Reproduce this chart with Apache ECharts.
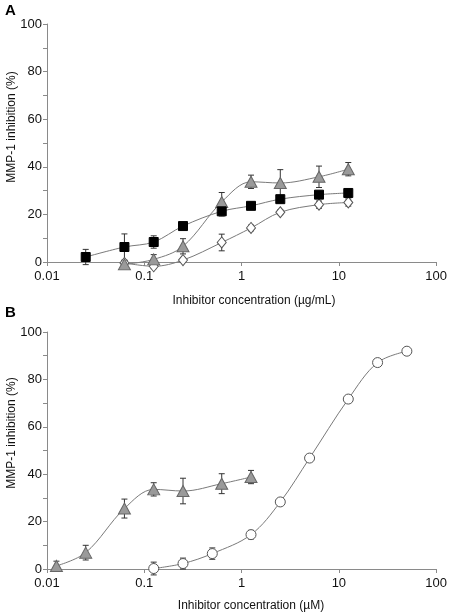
<!DOCTYPE html>
<html>
<head>
<meta charset="utf-8">
<script src="https://cdn.jsdelivr.net/npm/echarts@6/dist/echarts.min.js"></script>
<style>html,body{margin:0;padding:0;background:#fff}#c{width:450px;height:616px}</style>
</head>
<body>
<div id="c"></div>
<script>
// ---- Panel A data (µg/mL) ----
var sqConcA = [0.025, 0.0625, 0.125, 0.25, 0.625, 1.25, 2.5, 6.25, 12.5];
var sqA = [2.1, 6.3, 8.4, 15.1, 21.3, 23.6, 26.4, 28.3, 29.0];
var sqErrA = [3.2, 5.5, 2.6, 1.0, 2.0, 1.5, 1.5, 1.2, 1.2];

var triConcA = [0.0625, 0.125, 0.25, 0.625, 1.25, 2.5, 6.25, 12.5];
var triA = [-1.0, 1.1, 6.6, 25.2, 33.7, 33.2, 35.8, 39.0];
var triErrA = [1.5, 2.0, 3.2, 4.0, 2.8, 5.6, 4.5, 2.8];

var diaConcA = [0.0625, 0.125, 0.25, 0.625, 1.25, 2.5, 6.25, 12.5];
var diaA = [-0.4, -1.8, 0.8, 8.2, 14.3, 20.9, 24.1, 25.0];
var diaErrA = [1.0, 1.0, 0.8, 3.5, 1.2, 1.0, 1.5, 1.5];

// ---- Panel B data (µM) ----
var triConcB = [0.0125, 0.025, 0.0625, 0.125, 0.25, 0.625, 1.25];
var triB = [1.3, 6.9, 25.5, 33.6, 32.9, 36.0, 38.8];
var triErrB = [2.0, 3.1, 4.0, 2.8, 5.4, 4.2, 2.8];

var circConcB = [0.125, 0.25, 0.5, 1.25, 2.5, 5, 12.5, 25, 50];
var circB = [0.2, 2.3, 6.5, 14.5, 28.3, 46.8, 71.7, 87.1, 91.9];
var circErrB = [2.7, 2.3, 2.4, 1.8, 0, 0, 0, 0, 0];

var yTicks = [0, 20, 40, 60, 80, 100];
var xTickLabels = ['0.01', '0.1', '1', '10', '100'];
var yTitle = 'MMP-1 inhibition (%)';
var xTitleA = 'Inhibitor concentration (µg/mL)';
var xTitleB = 'Inhibitor concentration (µM)';

var FONT = '"Liberation Sans", Arial, sans-serif';
var AXC = '#8a8a8a';
var LINEC = '#7a7a7a';

function pairs(xs, ys) { return xs.map(function (x, i) { return [x, ys[i]]; }); }
function errData(xs, ys, es) { return xs.map(function (x, i) { return [x, ys[i] - es[i], ys[i] + es[i]]; }); }

function errSeries(idx, xs, ys, es) {
  return {
    type: 'custom', xAxisIndex: idx, yAxisIndex: idx, z: 1, clip: false,
    data: errData(xs, ys, es),
    renderItem: function (params, api) {
      var lo = api.coord([api.value(0), api.value(1)]);
      var hi = api.coord([api.value(0), api.value(2)]);
      var w = 3;
      var st = { stroke: '#333', lineWidth: 1 };
      return { type: 'group', children: [
        { type: 'line', shape: { x1: lo[0], y1: lo[1], x2: hi[0], y2: hi[1] }, style: st },
        { type: 'line', shape: { x1: lo[0] - w, y1: lo[1], x2: lo[0] + w, y2: lo[1] }, style: st },
        { type: 'line', shape: { x1: hi[0] - w, y1: hi[1], x2: hi[0] + w, y2: hi[1] }, style: st }
      ]};
    }
  };
}

function lineSeries(idx, xs, ys, symbol, size, fill, stroke) {
  return {
    type: 'line', xAxisIndex: idx, yAxisIndex: idx, z: 3, clip: false,
    data: pairs(xs, ys), smooth: 0.35,
    symbol: symbol, symbolSize: size, showSymbol: true,
    lineStyle: { color: LINEC, width: 1 },
    itemStyle: { color: fill, borderColor: stroke, borderWidth: 1, opacity: 1 },
    emphasis: { disabled: true }, animation: false
  };
}

function xAxis(idx) {
  return {
    type: 'log', logBase: 10, gridIndex: idx, min: 0.01, max: 100,
    axisLine: { lineStyle: { color: AXC, width: 1 } },
    axisTick: { show: true, length: 4, lineStyle: { color: AXC } },
    minorTick: { show: false }, splitLine: { show: false },
    axisLabel: { margin: 8, color: '#111', fontFamily: FONT, fontSize: 13,
      formatter: function (v) {
        var k = Math.round(Math.log10(v)) + 2;
        return xTickLabels[k] !== undefined ? xTickLabels[k] : '';
      } }
  };
}
function yAxis(idx) {
  return {
    type: 'value', gridIndex: idx, min: yTicks[0], max: yTicks[yTicks.length - 1], interval: 20,
    axisLine: { show: true, lineStyle: { color: AXC, width: 1 } },
    axisTick: { show: true, length: 4, lineStyle: { color: AXC } },
    minorTick: { show: true, splitNumber: 2, length: 4, lineStyle: { color: AXC } },
    splitLine: { show: false },
    axisLabel: { margin: 5, color: '#111', fontFamily: FONT, fontSize: 13 }
  };
}

var chart = echarts.init(document.getElementById('c'), null, { renderer: 'canvas' });
chart.setOption({
  animation: false,
  backgroundColor: '#fff',
  grid: [
    { left: 47, top: 24, width: 395, height: 238 },
    { left: 47, top: 332, width: 395, height: 237 }
  ],
  xAxis: [xAxis(0), xAxis(1)],
  yAxis: [yAxis(0), yAxis(1)],
  graphic: [
    { type: 'text', left: 5, top: 3, style: { text: 'A', font: 'bold 15px "Liberation Sans", Arial, sans-serif', fill: '#000' } },
    { type: 'text', left: 5, top: 305, style: { text: 'B', font: 'bold 15px "Liberation Sans", Arial, sans-serif', fill: '#000' } },
    { type: 'text', x: 12, y: 127, rotation: Math.PI / 2, style: { text: yTitle, font: '12px ' + FONT, fill: '#111', align: 'center', verticalAlign: 'middle' } },
    { type: 'text', x: 12, y: 433, rotation: Math.PI / 2, style: { text: yTitle, font: '12px ' + FONT, fill: '#111', align: 'center', verticalAlign: 'middle' } },
    { type: 'text', x: 254, y: 301, style: { text: xTitleA, font: '12px ' + FONT, fill: '#111', align: 'center', verticalAlign: 'middle' } },
    { type: 'text', x: 251, y: 606, style: { text: xTitleB, font: '12px ' + FONT, fill: '#111', align: 'center', verticalAlign: 'middle' } }
  ],
  series: [
    errSeries(0, sqConcA, sqA, sqErrA),
    errSeries(0, triConcA, triA, triErrA),
    errSeries(0, diaConcA, diaA, diaErrA),
    lineSeries(0, diaConcA, diaA, 'diamond', [9, 11], '#ffffff', '#555'),
    lineSeries(0, triConcA, triA, 'triangle', [12, 11], '#9a9a9a', '#666'),
    lineSeries(0, sqConcA, sqA, 'rect', 9, '#000000', '#000'),
    errSeries(1, triConcB, triB, triErrB),
    errSeries(1, circConcB, circB, circErrB),
    lineSeries(1, triConcB, triB, 'triangle', [12, 11], '#9a9a9a', '#666'),
    lineSeries(1, circConcB, circB, 'circle', 10, '#ffffff', '#555')
  ]
});
</script>
</body>
</html>
